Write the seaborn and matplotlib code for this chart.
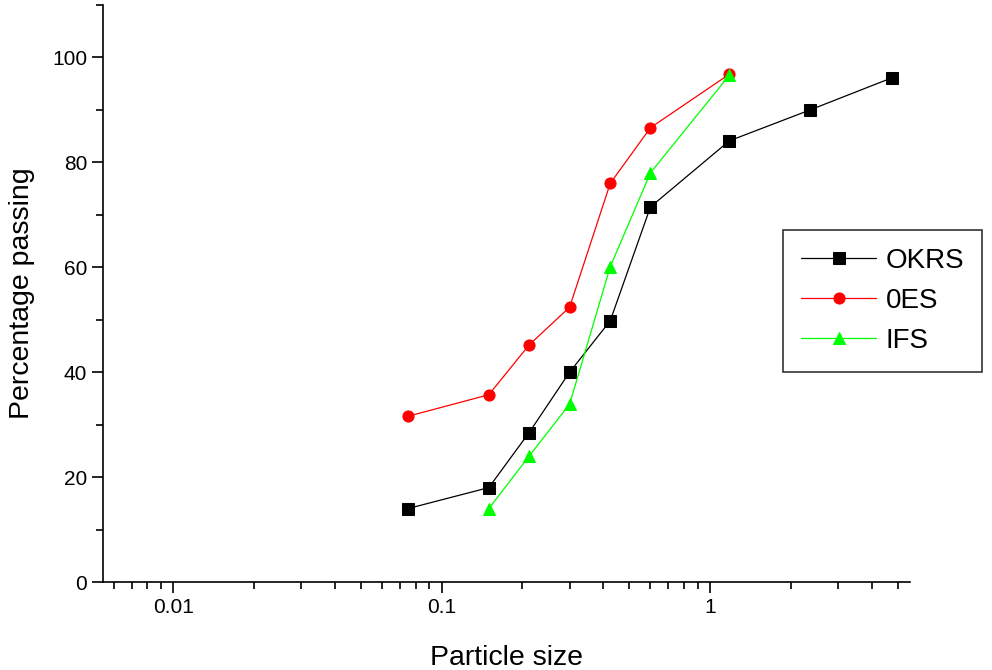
"""
Particle size distribution (grading curves) for three soils.
Saves out.png
"""

import matplotlib
matplotlib.use("Agg")
import matplotlib.pyplot as plt
from matplotlib.ticker import MultipleLocator, FixedLocator, NullFormatter
import pandas as pd
import seaborn as sns

OKRS_SIZE = [0.075, 0.15, 0.212, 0.3, 0.425, 0.6, 1.18, 2.36, 4.75]
OKRS_PASS = [14.0, 18.0, 28.5, 40.0, 49.8, 71.5, 84.1, 90.0, 96.1]

OES_SIZE = [0.075, 0.15, 0.212, 0.3, 0.425, 0.6, 1.18]
OES_PASS = [31.6, 35.7, 45.2, 52.4, 76.0, 86.6, 96.8]

IFS_SIZE = [0.15, 0.212, 0.3, 0.425, 0.6, 1.18]
IFS_PASS = [14.0, 24.0, 33.9, 60.1, 78.0, 96.6]

SERIES = [
    ("OKRS", OKRS_SIZE, OKRS_PASS, "black", "s"),
    ("0ES", OES_SIZE, OES_PASS, "#ff0000", "o"),
    ("IFS", IFS_SIZE, IFS_PASS, "#00ff00", "^"),
]


def main():
    sns.set_style("ticks")
    plt.rcParams["font.family"] = ["Liberation Sans", "DejaVu Sans"]
    plt.rcParams["text.color"] = "black"
    plt.rcParams["axes.labelcolor"] = "black"

    fig = plt.figure(figsize=(9.92, 6.7), dpi=100)
    ax = fig.add_axes([103 / 992, 88 / 670, 807 / 992, 577 / 670])

    for name, xs, ys, color, marker in SERIES:
        df = pd.DataFrame({"size": xs, "passing": ys})
        sns.lineplot(data=df, x="size", y="passing", ax=ax, color=color,
                     marker=marker, markersize=8, markeredgecolor=color,
                     linewidth=0.9, label=name)
        ax.lines[-1].set_markerfacecolor(color)

    ax.set_xscale("log")
    ax.set_xlim(0.00548, 5.56)
    ax.set_ylim(0, 110)

    ax.xaxis.set_major_locator(FixedLocator([0.01, 0.1, 1]))
    ax.set_xticklabels(["0.01", "0.1", "1"])
    minors = [m * 10.0 ** e for e in (-3, -2, -1, 0) for m in range(2, 10)]
    ax.xaxis.set_minor_locator(FixedLocator(minors))
    ax.xaxis.set_minor_formatter(NullFormatter())

    ax.yaxis.set_major_locator(FixedLocator([0, 20, 40, 60, 80, 100]))
    ax.yaxis.set_minor_locator(MultipleLocator(10))

    ax.tick_params(axis="both", which="major", direction="out", length=8,
                   width=1.2, labelsize=15, colors="black")
    ax.tick_params(axis="both", which="minor", direction="out", length=5,
                   width=1.2, colors="black")
    for side in ("top", "right"):
        ax.spines[side].set_visible(False)
    for side in ("left", "bottom"):
        ax.spines[side].set_linewidth(1.2)
        ax.spines[side].set_color("black")

    ax.set_xlabel("Particle size", fontsize=20.5, labelpad=20, color="black")
    ax.set_ylabel("Percentage passing", fontsize=20.5, labelpad=12,
                  color="black")

    leg = ax.legend(loc="upper left", bbox_to_anchor=(783 / 992, 1 - 230 / 670),
                    bbox_transform=fig.transFigure, fontsize=20, frameon=True,
                    fancybox=False, edgecolor="black", handlelength=2.7,
                    borderpad=0.65, labelspacing=0.5, handletextpad=0.35,
                    borderaxespad=0, labelcolor="black")
    leg.get_frame().set_linewidth(1.2)

    fig.savefig("out.png", dpi=100)
    plt.close(fig)


if __name__ == "__main__":
    main()
